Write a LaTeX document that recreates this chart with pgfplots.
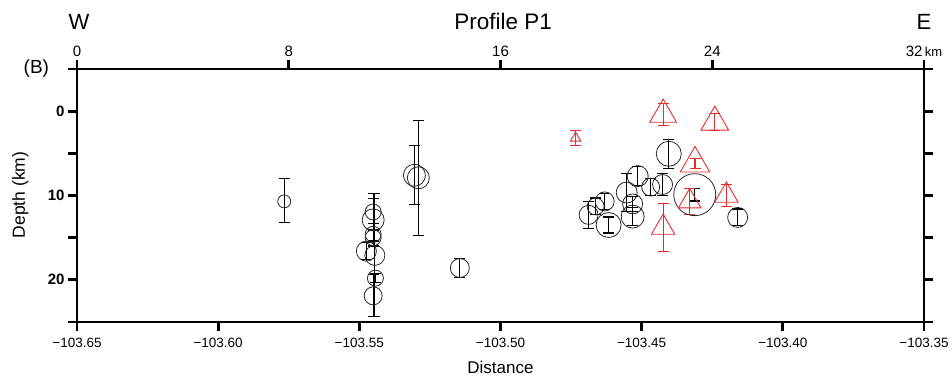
\documentclass[border=0pt]{standalone}
\usepackage{pgfplots}
\pgfplotsset{compat=1.18}
\usepackage{pgfplotstable}
\usepackage{fontspec}
\setmainfont{Liberation Sans}
\definecolor{tri}{RGB}{225,45,45}
\definecolor{circ}{RGB}{40,40,40}

\pgfplotstableread{
x y ep em r
-103.5766 10.7 2.5 2.7 6.5
-103.5451 11.95 2.2 2.2 8
-103.5451 12.9 2.5 2.5 11
-103.5451 14.6 1.3 1.3 8
-103.5451 15.0 1.0 1.0 8
-103.5475 16.6 1.0 1.0 10
-103.5445 17.1 7.3 7.3 10
-103.5443 19.8 0.5 0.5 8
-103.5451 21.9 2.5 2.5 9
-103.5305 7.6 3.5 3.5 11
-103.5291 7.9 6.8 6.8 11
-103.5144 18.6 1.1 1.1 9.5
-103.4688 12.3 1.6 1.6 9.5
-103.4663 11.3 1.0 1.0 8.5
-103.4631 10.7 0.95 0.95 9.5
-103.4617 13.5 0.95 0.95 12.5
-103.4553 9.65 2.3 2.3 10.5
-103.4532 11.0 0.9 0.9 10
-103.4532 12.5 1.1 1.1 11.5
-103.4514 7.7 1.1 1.1 10.5
-103.4468 9.0 1.05 1.05 9
-103.4426 8.7 1.3 1.3 10
-103.4404 5.05 1.7 1.7 12.5
-103.4312 9.9 0.75 0.75 21
-103.4160 12.6 1.0 1.0 10
}\circles

\pgfplotstableread{
x y ep em r
-103.4734 3.2 0.9 0.9 6
-103.4424 0.4 1.3 1.3 15.5
-103.4241 1.3 1.0 1.0 16
-103.4311 6.2 0.55 0.55 17
-103.4200 10.0 1.35 1.35 13.5
-103.4330 10.7 1.5 1.5 13
-103.4424 13.8 2.8 2.8 13.5
}\triangles

\begin{document}
\begin{tikzpicture}
\begin{axis}[
  scale only axis, width=847pt, height=253pt,
  xmin=-103.65, xmax=-103.35, ymin=-5, ymax=25, y dir=reverse,
  axis x line*=bottom, axis y line*=left,
  axis line style={line width=1.1pt, black},
  xtick={-103.65,-103.60,-103.55,-103.50,-103.45,-103.40,-103.35},
  xticklabels={−103.65,−103.60,−103.55,−103.50,−103.45,−103.40,−103.35},
  ytick={-5,0,5,10,15,20,25},
  yticklabels={,0,,10,,20,},
  tick align=outside, major tick length=9pt,
  tick style={line width=2.8pt, black},
  xticklabel style={font=\fontsize{13.5}{15}\selectfont, yshift=-4pt},
  yticklabel style={font=\fontsize{15}{17}\selectfont\bfseries},
  xlabel={Distance},
  xlabel style={at={(axis description cs:0.5,-0.178)}, anchor=center, font=\fontsize{17}{19}\selectfont},
  ylabel={Depth (km)},
  ylabel style={at={(axis description cs:-0.067,0.502)}, anchor=center, font=\fontsize{17.5}{19}\selectfont},
  clip=false,
]
\addplot[scatter, only marks, mark=o, draw=circ, line width=0.8pt,
  scatter/use mapped color={draw=circ, fill=none},
  visualization depends on={\thisrow{r} \as \perpointmarksize},
  scatter/@pre marker code/.append style={/tikz/mark size=\perpointmarksize},
  error bars/.cd, y dir=both, y explicit,
  error bar style={line width=1.1pt, black},
  error mark options={rotate=90, mark size=5.5pt, line width=1.1pt, black}
] table[x=x, y=y, y error plus=ep, y error minus=em] {\circles};

\addplot[scatter, only marks, mark=triangle, draw=tri, line width=0.9pt,
  scatter/use mapped color={draw=tri, fill=none},
  visualization depends on={\thisrow{r} \as \perpointmarksize},
  scatter/@pre marker code/.append style={/tikz/mark size=\perpointmarksize},
  error bars/.cd, y dir=both, y explicit,
  error bar style={line width=1.1pt, tri},
  error mark options={rotate=90, mark size=5.5pt, line width=1.1pt, tri}
] table[x=x, y=y, y error plus=ep, y error minus=em] {\triangles};

\node[font=\fontsize{22}{24}\selectfont] at (axis description cs:0.0024,1.186) {W};
\node[font=\fontsize{22.5}{24}\selectfont] at (axis description cs:0.503,1.186) {Profile P1};
\node[font=\fontsize{22}{24}\selectfont] at (axis description cs:1.0,1.186) {E};
\node[font=\fontsize{19}{21}\selectfont] at (axis description cs:-0.048,1.0) {(B)};
\end{axis}
\begin{axis}[
  scale only axis, width=847pt, height=253pt,
  xmin=0, xmax=32, ymin=-5, ymax=25, y dir=reverse,
  axis x line*=top, axis y line*=right,
  axis line style={line width=1.1pt, black},
  xtick={0,8,16,24,32},
  xticklabels={0,8,16,24,{32\,{\fontsize{13}{15}\selectfont km}}},
  ytick={-5,0,5,10,15,20,25},
  yticklabels={},
  tick align=outside, major tick length=9pt,
  tick style={line width=2.8pt, black},
  xticklabel style={font=\fontsize{15}{17}\selectfont},
]
\end{axis}
\pgfresetboundingbox
\path ([shift={(-77pt,-57pt)}]current axis.south west) rectangle ([shift={(28pt,69pt)}]current axis.north east);
\end{tikzpicture}
\end{document}
